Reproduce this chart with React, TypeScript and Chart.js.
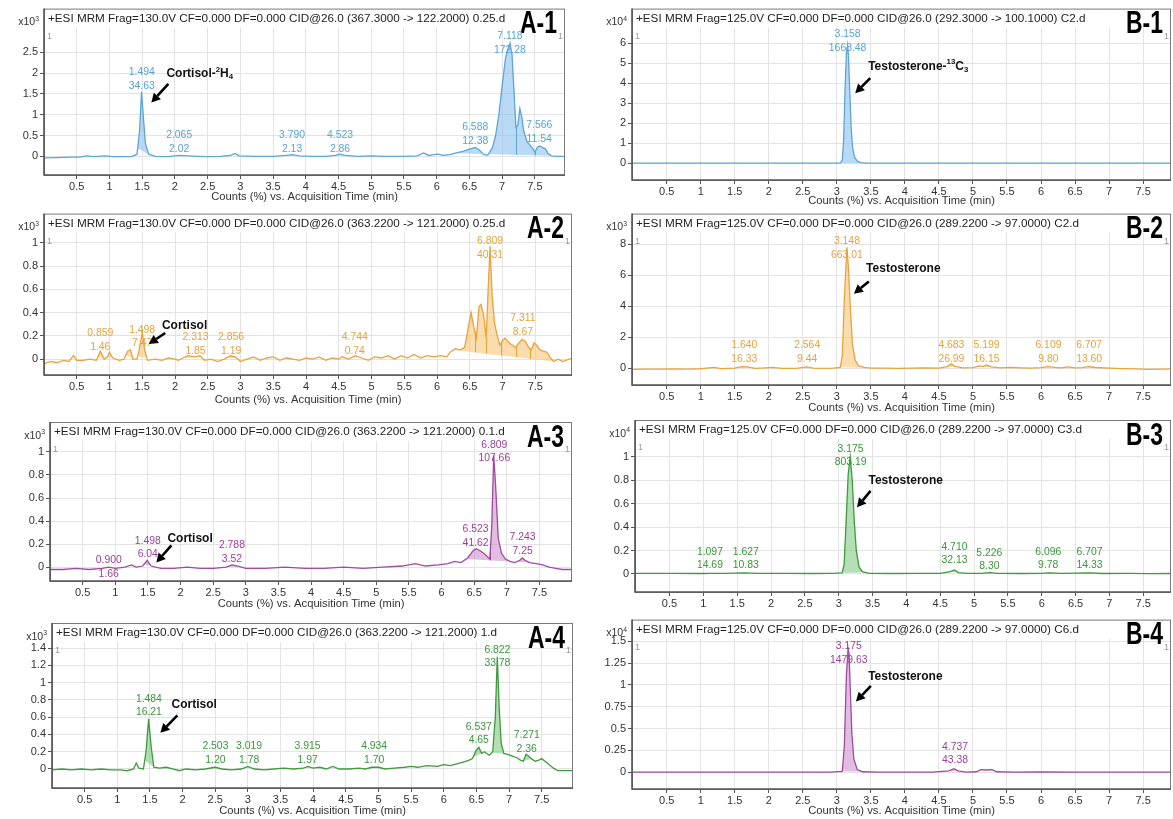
import React, { useEffect, useRef } from "react";
import { Chart, registerables } from "chart.js";

Chart.register(...registerables);

type Pt = [number, number];
type Win = { range: [number, number]; splits?: number[] };
type Seg = { t: string; k?: "sup" | "sub" };

// ---------------- DATA ----------------
const X_TICKS = [0.5, 1, 1.5, 2, 2.5, 3, 3.5, 4, 4.5, 5, 5.5, 6, 6.5, 7, 7.5];
const Y_TICKS_A1 = [0, 0.5, 1, 1.5, 2, 2.5];
const Y_TICKS_A2 = [0, 0.2, 0.4, 0.6, 0.8, 1];
const Y_TICKS_A3 = [0, 0.2, 0.4, 0.6, 0.8, 1];
const Y_TICKS_A4 = [0, 0.2, 0.4, 0.6, 0.8, 1, 1.2, 1.4];
const Y_TICKS_B1 = [0, 1, 2, 3, 4, 5, 6];
const Y_TICKS_B2 = [0, 2, 4, 6, 8];
const Y_TICKS_B3 = [0, 0.2, 0.4, 0.6, 0.8, 1];
const Y_TICKS_B4 = [0, 0.25, 0.5, 0.75, 1, 1.25, 1.5];

const HEADER_A1 = "+ESI MRM Frag=130.0V CF=0.000 DF=0.000 CID@26.0 (367.3000 -> 122.2000) 0.25.d";
const HEADER_A2 = "+ESI MRM Frag=130.0V CF=0.000 DF=0.000 CID@26.0 (363.2200 -> 121.2000) 0.25.d";
const HEADER_A3 = "+ESI MRM Frag=130.0V CF=0.000 DF=0.000 CID@26.0 (363.2200 -> 121.2000) 0.1.d";
const HEADER_A4 = "+ESI MRM Frag=130.0V CF=0.000 DF=0.000 CID@26.0 (363.2200 -> 121.2000) 1.d";
const HEADER_B1 = "+ESI MRM Frag=125.0V CF=0.000 DF=0.000 CID@26.0 (292.3000 -> 100.1000) C2.d";
const HEADER_B2 = "+ESI MRM Frag=125.0V CF=0.000 DF=0.000 CID@26.0 (289.2200 -> 97.0000) C2.d";
const HEADER_B3 = "+ESI MRM Frag=125.0V CF=0.000 DF=0.000 CID@26.0 (289.2200 -> 97.0000) C3.d";
const HEADER_B4 = "+ESI MRM Frag=125.0V CF=0.000 DF=0.000 CID@26.0 (289.2200 -> 97.0000) C6.d";
const X_TITLE = "Counts (%) vs. Acquisition Time (min)";

const TRACE_A1: Pt[] = [
  [0.0, -0.04], [0.2, -0.03], [0.4, -0.02], [0.55, -0.02], [0.65, 0.01], [0.75, -0.01], [0.95, 0.01], [1.05, -0.01],
  [1.2, -0.01], [1.35, 0.0], [1.42, 0.05], [1.46, 0.6], [1.49, 1.55], [1.52, 0.9], [1.55, 0.3], [1.6, 0.05], [1.7, 0.0],
  [1.9, -0.01], [2.0, 0.01], [2.07, 0.02], [2.2, 0.01], [2.35, 0.0], [2.5, -0.01], [2.7, 0.0], [2.85, 0.02], [2.92, 0.07],
  [2.98, 0.01], [3.2, 0.0], [3.5, 0.0], [3.7, 0.02], [3.79, 0.04], [3.9, 0.01], [4.1, 0.0], [4.3, 0.0], [4.45, 0.02],
  [4.52, 0.05], [4.6, 0.02], [4.8, 0.0], [5.0, 0.01], [5.2, 0.0], [5.5, 0.0], [5.7, 0.01], [5.8, 0.08], [5.88, 0.02],
  [5.95, 0.04], [6.02, 0.05], [6.1, 0.02], [6.2, 0.04], [6.3, 0.08], [6.4, 0.12], [6.5, 0.17], [6.59, 0.21], [6.65, 0.15],
  [6.72, 0.04], [6.78, 0.03], [6.85, 0.2], [6.9, 0.5], [6.95, 1.0], [7.0, 1.7], [7.05, 2.35], [7.09, 2.6], [7.12, 2.72],
  [7.15, 2.45], [7.18, 1.6], [7.21, 0.7], [7.24, 0.75], [7.27, 1.15], [7.3, 0.95], [7.33, 0.6], [7.38, 0.35], [7.42, 0.28],
  [7.46, 0.2], [7.5, 0.1], [7.54, 0.22], [7.57, 0.25], [7.6, 0.23], [7.63, 0.2], [7.66, 0.18], [7.7, 0.07], [7.75, 0.01],
  [7.85, 0.0], [7.96, 0.0],
];
const TRACE_A2: Pt[] = [
  [0.0, -0.04], [0.1, -0.02], [0.2, -0.03], [0.3, -0.01], [0.38, -0.02], [0.45, 0.03], [0.5, -0.01], [0.6, -0.01],
  [0.7, 0.0], [0.8, -0.01], [0.86, 0.07], [0.92, 0.0], [0.97, 0.02], [1.0, 0.06], [1.05, 0.01], [1.15, -0.01], [1.22, 0.0],
  [1.28, 0.07], [1.32, 0.08], [1.36, 0.0], [1.42, 0.0], [1.46, 0.1], [1.5, 0.23], [1.54, 0.07], [1.58, -0.01], [1.7, 0.0],
  [1.8, -0.01], [1.9, 0.01], [2.0, 0.0], [2.05, -0.01], [2.12, 0.01], [2.2, 0.03], [2.3, 0.02], [2.38, 0.03], [2.45, -0.01],
  [2.55, 0.0], [2.65, -0.02], [2.75, 0.0], [2.85, 0.03], [2.92, 0.02], [3.0, -0.02], [3.1, 0.0], [3.2, 0.02], [3.3, -0.01],
  [3.4, 0.01], [3.5, 0.02], [3.6, -0.01], [3.7, 0.01], [3.8, 0.0], [3.9, -0.01], [4.0, 0.01], [4.1, 0.0], [4.2, 0.02],
  [4.3, -0.01], [4.4, 0.01], [4.5, 0.0], [4.55, 0.02], [4.65, 0.0], [4.75, 0.03], [4.85, 0.01], [4.95, -0.01], [5.05, 0.02],
  [5.15, 0.01], [5.25, 0.03], [5.35, 0.0], [5.45, 0.03], [5.55, 0.01], [5.65, 0.04], [5.75, 0.01], [5.85, 0.03], [5.95, 0.02],
  [6.05, 0.03], [6.15, 0.02], [6.2, 0.06], [6.28, 0.09], [6.35, 0.08], [6.42, 0.1], [6.47, 0.25], [6.52, 0.4], [6.56, 0.28],
  [6.6, 0.18], [6.64, 0.45], [6.67, 0.47], [6.71, 0.38], [6.75, 0.18], [6.78, 0.6], [6.81, 0.97], [6.84, 0.55], [6.88, 0.3],
  [6.92, 0.2], [6.96, 0.12], [7.0, 0.16], [7.04, 0.18], [7.1, 0.14], [7.15, 0.12], [7.2, 0.1], [7.25, 0.14], [7.3, 0.17],
  [7.35, 0.15], [7.4, 0.1], [7.44, 0.08], [7.48, 0.14], [7.52, 0.12], [7.57, 0.08], [7.62, 0.07], [7.68, 0.06], [7.72, 0.02],
  [7.78, -0.02], [7.85, 0.0], [7.92, -0.02], [8.06, 0.01],
];
const TRACE_A3: Pt[] = [
  [0.0, -0.02], [0.2, -0.02], [0.4, -0.01], [0.6, -0.02], [0.8, -0.01], [0.9, 0.0], [1.0, -0.01], [1.15, 0.0], [1.25, 0.02],
  [1.32, 0.0], [1.42, 0.01], [1.49, 0.06], [1.55, 0.01], [1.7, -0.01], [1.9, -0.01], [2.1, 0.0], [2.3, -0.01], [2.5, -0.01],
  [2.7, 0.0], [2.79, 0.02], [2.88, 0.01], [3.0, -0.01], [3.3, -0.01], [3.6, 0.0], [3.9, -0.01], [4.2, -0.01], [4.5, 0.0],
  [4.8, -0.01], [5.1, 0.0], [5.4, 0.01], [5.6, 0.03], [5.75, 0.01], [5.95, 0.02], [6.1, 0.03], [6.2, 0.05], [6.3, 0.04],
  [6.4, 0.08], [6.48, 0.14], [6.53, 0.16], [6.6, 0.14], [6.67, 0.11], [6.74, 0.07], [6.77, 0.35], [6.8, 0.97], [6.83, 0.7],
  [6.87, 0.25], [6.92, 0.12], [6.98, 0.07], [7.05, 0.05], [7.12, 0.04], [7.2, 0.06], [7.24, 0.08], [7.28, 0.06], [7.35, 0.04],
  [7.45, 0.03], [7.55, 0.02], [7.65, 0.0], [7.75, -0.01], [7.85, -0.02], [8.0, -0.02],
];
const TRACE_A4: Pt[] = [
  [0.0, -0.01], [0.15, 0.0], [0.3, -0.01], [0.45, 0.0], [0.6, -0.01], [0.75, 0.0], [0.9, -0.01], [1.05, -0.01], [1.15, -0.02],
  [1.25, 0.0], [1.29, 0.07], [1.33, 0.01], [1.4, 0.0], [1.44, 0.2], [1.48, 0.58], [1.52, 0.25], [1.56, 0.02], [1.65, 0.01],
  [1.75, 0.02], [1.85, 0.0], [1.95, -0.02], [2.05, 0.0], [2.2, -0.01], [2.35, 0.0], [2.5, 0.02], [2.6, 0.0], [2.75, -0.01],
  [2.9, 0.0], [3.0, 0.03], [3.1, 0.0], [3.25, -0.01], [3.4, 0.0], [3.55, 0.01], [3.7, 0.0], [3.85, 0.01], [3.92, 0.03],
  [4.0, 0.01], [4.1, 0.02], [4.2, 0.0], [4.3, 0.03], [4.4, 0.0], [4.55, 0.0], [4.7, 0.01], [4.8, 0.0], [4.9, 0.02], [5.0, 0.02],
  [5.1, 0.0], [5.25, 0.01], [5.4, 0.02], [5.5, 0.03], [5.6, 0.02], [5.75, 0.04], [5.9, 0.03], [6.0, 0.05], [6.1, 0.04],
  [6.2, 0.06], [6.3, 0.08], [6.38, 0.1], [6.44, 0.12], [6.5, 0.22], [6.54, 0.25], [6.58, 0.18], [6.62, 0.2], [6.66, 0.18],
  [6.7, 0.16], [6.75, 0.2], [6.79, 0.6], [6.82, 1.3], [6.85, 0.7], [6.88, 0.3], [6.92, 0.18], [6.98, 0.17], [7.05, 0.15],
  [7.12, 0.13], [7.18, 0.1], [7.22, 0.09], [7.26, 0.17], [7.3, 0.15], [7.34, 0.12], [7.4, 0.09], [7.45, 0.1], [7.5, 0.12],
  [7.55, 0.09], [7.6, 0.06], [7.68, 0.01], [7.75, -0.02], [7.85, -0.02], [7.98, -0.02],
];
const TRACE_B1: Pt[] = [
  [-0.01, 0.0], [1.0, 0.0], [2.0, 0.0], [2.9, 0.0], [3.05, 0.01], [3.08, 0.15], [3.1, 1.2], [3.12, 3.6], [3.14, 5.5],
  [3.158, 5.9], [3.17, 5.4], [3.19, 3.6], [3.21, 1.8], [3.23, 0.8], [3.26, 0.3], [3.3, 0.1], [3.35, 0.03], [3.42, 0.0],
  [4.0, 0.0], [5.0, 0.0], [6.0, 0.0], [7.0, 0.0], [7.92, 0.0],
];
const TRACE_B2: Pt[] = [
  [-0.01, -0.08], [0.2, -0.06], [0.4, -0.07], [0.6, -0.05], [0.8, -0.06], [1.0, -0.04], [1.2, 0.05], [1.3, -0.03], [1.5, 0.0],
  [1.6, 0.1], [1.68, 0.08], [1.8, -0.02], [1.95, 0.02], [2.05, 0.05], [2.2, -0.02], [2.4, -0.01], [2.56, 0.08], [2.65, 0.0],
  [2.8, -0.01], [2.95, 0.0], [3.05, 0.05], [3.08, 0.8], [3.11, 4.5], [3.148, 7.8], [3.17, 6.5], [3.2, 3.8], [3.23, 1.5],
  [3.27, 0.5], [3.32, 0.15], [3.4, 0.05], [3.5, 0.0], [3.7, 0.0], [3.9, -0.01], [4.1, 0.0], [4.3, 0.02], [4.5, 0.0],
  [4.62, 0.1], [4.68, 0.28], [4.74, 0.12], [4.85, 0.02], [5.0, 0.03], [5.1, 0.15], [5.15, 0.1], [5.2, 0.2], [5.27, 0.08],
  [5.4, 0.02], [5.55, 0.05], [5.7, 0.02], [5.85, 0.0], [6.0, 0.03], [6.1, 0.1], [6.2, 0.05], [6.3, 0.02], [6.4, 0.08],
  [6.5, 0.02], [6.6, 0.03], [6.7, 0.09], [6.8, 0.04], [7.0, 0.0], [7.2, -0.03], [7.4, -0.05], [7.6, -0.08], [7.8, -0.06],
  [7.92, -0.05],
];
const TRACE_B3: Pt[] = [
  [-0.01, 0.005], [0.5, 0.006], [1.0, 0.004], [1.1, 0.006], [1.3, 0.005], [1.6, 0.009], [1.8, 0.006], [2.2, 0.005],
  [2.6, 0.004], [2.9, 0.005], [3.05, 0.01], [3.08, 0.08], [3.11, 0.45], [3.14, 0.85], [3.17, 1.0], [3.2, 0.8], [3.23, 0.45],
  [3.26, 0.2], [3.3, 0.06], [3.35, 0.02], [3.45, 0.005], [3.8, 0.004], [4.2, 0.005], [4.5, 0.006], [4.65, 0.02], [4.71, 0.035],
  [4.77, 0.012], [4.9, 0.005], [5.1, 0.006], [5.23, 0.012], [5.35, 0.005], [5.7, 0.004], [6.0, 0.006], [6.1, 0.01],
  [6.3, 0.005], [6.7, 0.009], [6.9, 0.004], [7.3, 0.005], [7.6, 0.003], [7.92, 0.004],
];
const TRACE_B4: Pt[] = [
  [-0.01, 0.0], [0.5, 0.0], [1.0, 0.001], [1.5, 0.0], [2.0, 0.001], [2.5, 0.0], [2.9, 0.001], [3.08, 0.01], [3.11, 0.3],
  [3.14, 1.1], [3.165, 1.42], [3.18, 1.35], [3.2, 0.9], [3.22, 0.45], [3.25, 0.15], [3.3, 0.03], [3.38, 0.005], [3.6, 0.0],
  [4.0, 0.0], [4.4, 0.0], [4.65, 0.015], [4.72, 0.04], [4.78, 0.015], [4.9, 0.0], [5.05, 0.005], [5.12, 0.03], [5.2, 0.025],
  [5.28, 0.03], [5.35, 0.005], [5.6, 0.0], [6.0, 0.002], [6.5, 0.0], [7.0, 0.0], [7.5, 0.001], [7.92, 0.0],
];

// integration windows (min)
const WIN_A1: Win[] = [
  { range: [1.43, 1.6] }, { range: [2.0, 2.13] }, { range: [3.72, 3.86] }, { range: [4.45, 4.6] },
  { range: [6.28, 7.75], splits: [6.74, 7.21, 7.5] },
];
const WIN_A2: Win[] = [
  { range: [0.82, 0.93] }, { range: [0.96, 1.05] }, { range: [1.25, 1.36] }, { range: [1.43, 1.57] },
  { range: [2.12, 2.4] }, { range: [2.8, 2.95] }, { range: [4.7, 4.8] },
  { range: [6.25, 7.78], splits: [6.58, 6.75, 6.98, 7.21, 7.42] },
];
const WIN_A3: Win[] = [
  { range: [0.85, 0.96] }, { range: [1.44, 1.55] }, { range: [2.72, 2.92] },
  { range: [6.38, 7.05], splits: [6.75] }, { range: [7.15, 7.35] },
];
const WIN_A4: Win[] = [
  { range: [1.42, 1.56] }, { range: [2.45, 2.56] }, { range: [2.95, 3.06] }, { range: [3.87, 3.98] },
  { range: [4.85, 5.05] }, { range: [6.45, 6.6] }, { range: [6.74, 6.95] }, { range: [7.22, 7.34] },
];
const WIN_B1: Win[] = [{ range: [3.05, 3.42] }];
const WIN_B2: Win[] = [
  { range: [1.52, 1.75] }, { range: [2.5, 2.62] }, { range: [3.05, 3.45] }, { range: [4.6, 4.8] },
  { range: [5.05, 5.32], splits: [5.15] }, { range: [6.03, 6.18] }, { range: [6.63, 6.78] },
];
const WIN_B3: Win[] = [
  { range: [1.05, 1.15] }, { range: [1.58, 1.7] }, { range: [3.05, 3.4] }, { range: [4.63, 4.8] },
  { range: [5.18, 5.3] }, { range: [6.05, 6.15] }, { range: [6.65, 6.75] },
];
const WIN_B4: Win[] = [{ range: [3.08, 3.38] }, { range: [4.65, 4.8] }];

// peak labels: [retention time, area]
const PEAKS_A1 = [["1.494", "34.63"], ["2.065", "2.02"], ["3.790", "2.13"], ["4.523", "2.86"], ["6.588", "12.38"], ["7.118", "172.28"], ["7.566", "11.54"]];
const PEAKS_A2 = [["0.859", "1.46"], ["1.498", "7.47"], ["2.313", "1.85"], ["2.856", "1.19"], ["4.744", "0.74"], ["6.809", "40.31"], ["7.311", "8.67"]];
const PEAKS_A3 = [["0.900", "1.66"], ["1.498", "6.04"], ["2.788", "3.52"], ["6.523", "41.62"], ["6.809", "107.66"], ["7.243", "7.25"]];
const PEAKS_A4 = [["1.484", "16.21"], ["2.503", "1.20"], ["3.019", "1.78"], ["3.915", "1.97"], ["4.934", "1.70"], ["6.537", "4.65"], ["6.822", "33.78"], ["7.271", "2.36"]];
const PEAKS_B1 = [["3.158", "1668.48"]];
const PEAKS_B2 = [["1.640", "16.33"], ["2.564", "9.44"], ["3.148", "663.01"], ["4.683", "26.99"], ["5.199", "16.15"], ["6.109", "9.80"], ["6.707", "13.60"]];
const PEAKS_B3 = [["1.097", "14.69"], ["1.627", "10.83"], ["3.175", "803.19"], ["4.710", "32.13"], ["5.226", "8.30"], ["6.096", "9.78"], ["6.707", "14.33"]];
const PEAKS_B4 = [["3.175", "1479.63"], ["4.737", "43.38"]];

const NAME_CORT_IS: Seg[] = [{ t: "Cortisol-" }, { t: "2", k: "sup" }, { t: "H" }, { t: "4", k: "sub" }];
const NAME_CORT: Seg[] = [{ t: "Cortisol" }];
const NAME_TESTO_IS: Seg[] = [{ t: "Testosterone-" }, { t: "13", k: "sup" }, { t: "C" }, { t: "3", k: "sub" }];
const NAME_TESTO: Seg[] = [{ t: "Testosterone" }];

// ---------------- STYLE / LAYOUT ----------------
const FONT = '"Liberation Sans", Arial, Helvetica, sans-serif';
const BLUE = { line: "#5aa6da", fill: "rgba(140,192,236,0.6)", text: "#56a3d8" };
const ORANGE = { line: "#eba23c", fill: "rgba(247,196,118,0.6)", text: "#e6a23e" };
const PURPLE = { line: "#a04aa0", fill: "rgba(202,135,202,0.55)", text: "#9c3f9c" };
const GREEN = { line: "#3f9a3f", fill: "rgba(130,200,130,0.6)", text: "#3a963a" };
const HEADER_H = 19;

type Panel = {
  id: string; tag: string; header: string; expo: string;
  trace: Pt[]; wins: Win[]; peaks: string[][]; yTicks: number[]; col: typeof BLUE;
  left: number; top: number; width: number; height: number;
  boxL: number; boxR: number; boxT: number; axisY: number;
  xMin: number; xMax: number; yMin: number; yMax: number;
  peakY: number[];
  name: Seg[]; nameAt: [number, number]; arrow: [number, number, number, number];
  opaque?: boolean;
};

const PANELS: Panel[] = [
  { id: "A1", tag: "A-1", header: HEADER_A1, expo: "3", trace: TRACE_A1, wins: WIN_A1, peaks: PEAKS_A1, yTicks: Y_TICKS_A1, col: BLUE,
    left: 0, top: 0, width: 585, height: 205, boxL: 44, boxR: 565, boxT: 7, axisY: 175,
    xMin: 0, xMax: 7.96, yMin: -0.45, yMax: 3.55,
    peakY: [2.02, 0.5, 0.5, 0.5, 0.69, 2.88, 0.74],
    name: NAME_CORT_IS, nameAt: [1.87, 1.98], arrow: [1.9, 1.74, 1.64, 1.29] },
  { id: "B1", tag: "B-1", header: HEADER_B1, expo: "4", trace: TRACE_B1, wins: WIN_B1, peaks: PEAKS_B1, yTicks: Y_TICKS_B1, col: BLUE,
    left: 588, top: 0, width: 585, height: 209, boxL: 632, boxR: 1171, boxT: 7, axisY: 180,
    xMin: -0.01, xMax: 7.91, yMin: -0.84, yMax: 7.74,
    peakY: [6.45],
    name: NAME_TESTO_IS, nameAt: [3.46, 4.85], arrow: [3.49, 4.26, 3.27, 3.5] },
  { id: "A2", tag: "A-2", header: HEADER_A2, expo: "3", trace: TRACE_A2, wins: WIN_A2, peaks: PEAKS_A2, yTicks: Y_TICKS_A2, col: ORANGE,
    left: 0, top: 205, width: 585, height: 203, boxL: 44, boxR: 572, boxT: 212, axisY: 375,
    xMin: 0, xMax: 8.06, yMin: -0.136, yMax: 1.25,
    peakY: [0.22, 0.25, 0.185, 0.185, 0.185, 1.01, 0.35],
    name: NAME_CORT, nameAt: [1.8, 0.285], arrow: [1.85, 0.225, 1.6, 0.13] },
  { id: "B2", tag: "B-2", header: HEADER_B2, expo: "3", trace: TRACE_B2, wins: WIN_B2, peaks: PEAKS_B2, yTicks: Y_TICKS_B2, col: ORANGE,
    left: 588, top: 205, width: 585, height: 211, boxL: 632, boxR: 1171, boxT: 212, axisY: 385,
    xMin: -0.01, xMax: 7.91, yMin: -1.09, yMax: 9.98,
    peakY: [1.47, 1.47, 8.2, 1.47, 1.47, 1.47, 1.47],
    name: NAME_TESTO, nameAt: [3.43, 6.4], arrow: [3.47, 5.6, 3.25, 4.8] },
  { id: "A3", tag: "A-3", header: HEADER_A3, expo: "3", trace: TRACE_A3, wins: WIN_A3, peaks: PEAKS_A3, yTicks: Y_TICKS_A3, col: PURPLE,
    left: 0, top: 410, width: 585, height: 202, boxL: 50, boxR: 572, boxT: 422, axisY: 581,
    xMin: 0, xMax: 8.0, yMin: -0.12, yMax: 1.26,
    peakY: [0.06, 0.23, 0.19, 0.33, 1.06, 0.26],
    name: NAME_CORT, nameAt: [1.8, 0.25], arrow: [1.86, 0.19, 1.63, 0.04] },
  { id: "B3", tag: "B-3", header: HEADER_B3, expo: "4", trace: TRACE_B3, wins: WIN_B3, peaks: PEAKS_B3, yTicks: Y_TICKS_B3, col: GREEN,
    left: 588, top: 410, width: 585, height: 214, boxL: 635, boxR: 1171, boxT: 420, axisY: 592,
    xMin: -0.01, xMax: 7.91, yMin: -0.154, yMax: 1.316,
    peakY: [0.19, 0.19, 1.07, 0.23, 0.18, 0.19, 0.19],
    name: NAME_TESTO, nameAt: [3.44, 0.8], arrow: [3.47, 0.71, 3.27, 0.57] },
  { id: "A4", tag: "A-4", header: HEADER_A4, expo: "3", trace: TRACE_A4, wins: WIN_A4, peaks: PEAKS_A4, yTicks: Y_TICKS_A4, col: GREEN,
    left: 0, top: 612, width: 585, height: 207, boxL: 52, boxR: 573, boxT: 623, axisY: 788,
    xMin: 0, xMax: 7.98, yMin: -0.22, yMax: 1.69,
    peakY: [0.81, 0.26, 0.26, 0.26, 0.26, 0.49, 1.38, 0.39],
    name: NAME_CORT, nameAt: [1.83, 0.74], arrow: [1.92, 0.62, 1.66, 0.42] },
  { id: "B4", tag: "B-4", header: HEADER_B4, expo: "4", trace: TRACE_B4, wins: WIN_B4, peaks: PEAKS_B4, yTicks: Y_TICKS_B4, col: PURPLE,
    left: 588, top: 611, width: 585, height: 208, boxL: 632, boxR: 1171, boxT: 618, axisY: 789,
    xMin: -0.01, xMax: 7.91, yMin: -0.193, yMax: 1.75,
    peakY: [1.44, 0.29],
    name: NAME_TESTO, nameAt: [3.46, 1.1], arrow: [3.5, 0.99, 3.28, 0.81], opaque: true },
];

// ---------------- HELPERS ----------------
function interp(tr: Pt[], x: number): number {
  for (let i = 0; i < tr.length - 1; i++) {
    const [x0, y0] = tr[i];
    const [x1, y1] = tr[i + 1];
    if (x >= x0 && x <= x1) return x1 === x0 ? y0 : y0 + ((y1 - y0) * (x - x0)) / (x1 - x0);
  }
  return 0;
}

function richWidth(ctx: CanvasRenderingContext2D, segs: Seg[], size: number, weight: string) {
  let w = 0;
  for (const s of segs) {
    const fs = s.k ? size * 0.65 : size;
    ctx.font = `${weight} ${fs}px ${FONT}`;
    w += ctx.measureText(s.t).width;
  }
  return w;
}

function drawRich(ctx: CanvasRenderingContext2D, segs: Seg[], x: number, y: number, size: number, weight: string, color: string) {
  ctx.fillStyle = color;
  ctx.textAlign = "left";
  ctx.textBaseline = "middle";
  let cx = x;
  for (const s of segs) {
    const fs = s.k ? size * 0.65 : size;
    const dy = s.k === "sup" ? -size * 0.35 : s.k === "sub" ? size * 0.28 : 0;
    ctx.font = `${weight} ${fs}px ${FONT}`;
    ctx.fillText(s.t, cx, y + dy);
    cx += ctx.measureText(s.t).width;
  }
}

function drawArrow(ctx: CanvasRenderingContext2D, x1: number, y1: number, x2: number, y2: number) {
  const ang = Math.atan2(y2 - y1, x2 - x1);
  const hl = 9, hw = 4.8;
  const bx = x2 - hl * Math.cos(ang), by = y2 - hl * Math.sin(ang);
  ctx.strokeStyle = "#000";
  ctx.fillStyle = "#000";
  ctx.lineWidth = 2.6;
  ctx.beginPath();
  ctx.moveTo(x1, y1);
  ctx.lineTo(bx, by);
  ctx.stroke();
  ctx.beginPath();
  ctx.moveTo(x2, y2);
  ctx.lineTo(bx + hw * Math.sin(ang), by - hw * Math.cos(ang));
  ctx.lineTo(bx - hw * Math.sin(ang), by + hw * Math.cos(ang));
  ctx.closePath();
  ctx.fill();
}

function makeChart(canvas: HTMLCanvasElement, p: Panel) {
  const yW = p.boxL - p.left;
  const xH = p.top + p.height - p.axisY;
  const deco = {
    id: "deco" + p.id,
    beforeDraw(chart: any) {
      if (!p.opaque) return;
      const ctx = chart.ctx;
      ctx.save();
      ctx.fillStyle = "#fff";
      ctx.fillRect(0, 0, chart.width, chart.height);
      ctx.restore();
    },
    beforeDatasetsDraw(chart: any) {
      const { ctx, chartArea: a } = chart;
      const xs = chart.scales.x, ys = chart.scales.y;
      ctx.save();
      ctx.fillStyle = "#fff";
      ctx.fillRect(a.left, a.top, a.right - a.left, HEADER_H);
      ctx.beginPath();
      ctx.rect(a.left, a.top, a.right - a.left, a.bottom - a.top);
      ctx.clip();
      for (const w of p.wins) {
        const [r0, r1] = w.range;
        const ya = interp(p.trace, r0), yb = interp(p.trace, r1);
        ctx.beginPath();
        ctx.moveTo(xs.getPixelForValue(r0), ys.getPixelForValue(ya));
        for (const [px, py] of p.trace) {
          if (px > r0 && px < r1) ctx.lineTo(xs.getPixelForValue(px), ys.getPixelForValue(py));
        }
        ctx.lineTo(xs.getPixelForValue(r1), ys.getPixelForValue(yb));
        ctx.closePath();
        ctx.fillStyle = p.col.fill;
        ctx.fill();
        ctx.strokeStyle = p.col.line;
        ctx.lineWidth = 1;
        for (const s of w.splits ?? []) {
          const top = interp(p.trace, s);
          const base = ya + ((yb - ya) * (s - r0)) / (r1 - r0);
          ctx.beginPath();
          ctx.moveTo(Math.round(xs.getPixelForValue(s)) + 0.5, ys.getPixelForValue(top));
          ctx.lineTo(Math.round(xs.getPixelForValue(s)) + 0.5, ys.getPixelForValue(base));
          ctx.stroke();
        }
      }
      ctx.restore();
    },
    afterDatasetsDraw(chart: any) {
      const { ctx, chartArea: a } = chart;
      const xs = chart.scales.x, ys = chart.scales.y;
      ctx.save();
      // frame
      ctx.strokeStyle = "#7a7a7a";
      ctx.lineWidth = 1;
      ctx.strokeRect(a.left + 0.5, a.top + 0.5, a.right - a.left - 1, a.bottom - a.top);
      ctx.strokeStyle = "#555";
      ctx.lineWidth = 1.6;
      ctx.beginPath();
      ctx.moveTo(a.left, a.top);
      ctx.lineTo(a.left, a.bottom);
      ctx.lineTo(a.right, a.bottom);
      ctx.stroke();
      // header
      ctx.fillStyle = "#222";
      ctx.font = `11.7px ${FONT}`;
      ctx.textBaseline = "middle";
      ctx.textAlign = "left";
      ctx.fillText(p.header, a.left + 4, a.top + 10);
      // exponent
      const ex: Seg[] = [{ t: "x10" }, { t: p.expo, k: "sup" }];
      const ew = richWidth(ctx, ex, 10.5, "normal");
      drawRich(ctx, ex, a.left - 5 - ew, a.top + 14, 10.5, "normal", "#333");
      // small "1" marks
      ctx.fillStyle = "#999";
      ctx.font = `9px ${FONT}`;
      ctx.textAlign = "left";
      ctx.fillText("1", a.left + 3, a.top + 28);
      ctx.textAlign = "right";
      ctx.fillText("1", a.right - 2, a.top + 28);
      // panel tag
      ctx.save();
      ctx.translate(a.right - 8, a.top + 16);
      ctx.scale(0.74, 1);
      ctx.fillStyle = "#000";
      ctx.font = `bold 31px ${FONT}`;
      ctx.textAlign = "right";
      ctx.textBaseline = "middle";
      ctx.fillText(p.tag, 0, 0);
      ctx.restore();
      // peak labels
      ctx.fillStyle = p.col.text;
      ctx.font = `10.4px ${FONT}`;
      ctx.textAlign = "center";
      ctx.textBaseline = "middle";
      p.peaks.forEach((pk, i) => {
        const px = xs.getPixelForValue(parseFloat(pk[0]));
        const py = ys.getPixelForValue(p.peakY[i]);
        ctx.fillText(pk[0], px, py);
        ctx.fillText(pk[1], px, py + 13.5);
      });
      // compound name + arrow
      drawRich(ctx, p.name, xs.getPixelForValue(p.nameAt[0]), ys.getPixelForValue(p.nameAt[1]), 12, "bold", "#111");
      const [t0, t1, h0, h1] = p.arrow;
      drawArrow(ctx, xs.getPixelForValue(t0), ys.getPixelForValue(t1), xs.getPixelForValue(h0), ys.getPixelForValue(h1));
      ctx.restore();
    },
  };

  return new Chart(canvas, {
    type: "line",
    data: {
      datasets: [
        {
          data: p.trace.map(([x, y]) => ({ x, y })),
          borderColor: p.col.line,
          borderWidth: 1.3,
          pointRadius: 0,
          fill: false,
          tension: 0,
        },
      ],
    },
    options: {
      responsive: false,
      maintainAspectRatio: false,
      animation: false,
      devicePixelRatio: 1,
      events: [],
      layout: { padding: { left: 0, top: p.boxT - p.top, right: p.left + p.width - p.boxR, bottom: 0 } },
      plugins: { legend: { display: false }, tooltip: { enabled: false } },
      scales: {
        x: {
          type: "linear",
          min: p.xMin,
          max: p.xMax,
          afterBuildTicks: (s: any) => {
            s.ticks = X_TICKS.map((v) => ({ value: v }));
          },
          afterFit: (s: any) => {
            s.height = xH;
          },
          ticks: {
            autoSkip: false,
            maxRotation: 0,
            padding: 1,
            color: "#333",
            font: { family: FONT, size: 11 },
            callback: (v: any) => String(v),
          },
          grid: { color: "#e3e3e3", lineWidth: 1, tickLength: 4, tickColor: "#555" },
          border: { display: false },
          title: {
            display: true,
            text: X_TITLE,
            color: "#333",
            font: { family: FONT, size: 11.2 },
            padding: { top: 0, bottom: 1 },
          },
        },
        y: {
          type: "linear",
          min: p.yMin,
          max: p.yMax,
          afterBuildTicks: (s: any) => {
            s.ticks = p.yTicks.map((v) => ({ value: v }));
          },
          afterFit: (s: any) => {
            s.width = yW;
          },
          ticks: {
            padding: 2,
            color: "#333",
            font: { family: FONT, size: 11 },
            callback: (v: any) => String(v),
          },
          grid: { color: "#e3e3e3", lineWidth: 1, tickLength: 4, tickColor: "#555" },
          border: { display: false },
        },
      },
    } as any,
    plugins: [deco as any],
  });
}

function PanelView({ p }: { p: Panel }) {
  const ref = useRef<HTMLCanvasElement>(null);
  useEffect(() => {
    const chart = makeChart(ref.current as HTMLCanvasElement, p);
    return () => chart.destroy();
  }, [p]);
  return (
    <canvas
      ref={ref}
      width={p.width}
      height={p.height}
      style={{ position: "absolute", left: p.left, top: p.top, width: p.width, height: p.height }}
    />
  );
}

export default function App() {
  return (
    <div style={{ position: "absolute", left: 0, top: 0, width: 1173, height: 819, background: "#fff", overflow: "hidden" }}>
      {PANELS.map((p) => (
        <PanelView key={p.id} p={p} />
      ))}
    </div>
  );
}
